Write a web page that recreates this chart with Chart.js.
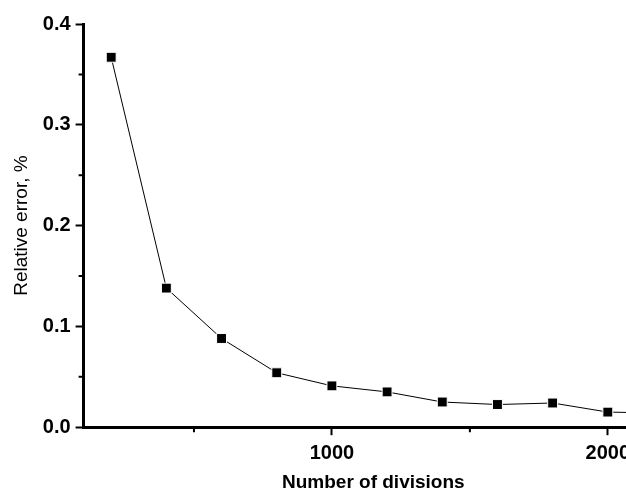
<!DOCTYPE html>
<html>
<head>
<meta charset="utf-8">
<script src="https://cdn.jsdelivr.net/npm/chart.js@4/dist/chart.umd.min.js"></script>
<style>
  html, body { margin: 0; padding: 0; background: #fff; overflow: hidden; }
  canvas { display: block; }
</style>
</head>
<body>
<canvas id="errChart" width="671" height="495"></canvas>
<script>
// Relative error vs. mesh divisions
const divisions = [200, 400, 600, 800, 1000, 1200, 1400, 1600, 1800, 2000, 2200];
const relError = [0.367, 0.138, 0.088, 0.054, 0.041, 0.035, 0.025, 0.0225, 0.024, 0.015, 0.014];
const xTicks = [500, 1000, 1500, 2000];
const xLabelled = [1000, 2000];
const yTicks = [0, 0.05, 0.1, 0.15, 0.2, 0.25, 0.3, 0.35, 0.4];

const isMajorY = (v) => Math.abs(v * 10 - Math.round(v * 10)) < 1e-6;
const isMajorX = (v) => xLabelled.includes(v);

// short unlabelled ticks between the labelled ones
const minorTicks = {
    id: 'minorTicks',
    afterDraw(chart) {
        const { ctx, scales: { x, y } } = chart;
        ctx.save();
        ctx.strokeStyle = '#000';
        ctx.lineWidth = 2;
        ctx.beginPath();
        xTicks.filter(v => !isMajorX(v)).forEach(v => {
            const px = x.getPixelForValue(v);
            ctx.moveTo(px, x.top);
            ctx.lineTo(px, x.top + 5);
        });
        yTicks.filter(v => !isMajorY(v)).forEach(v => {
            const py = y.getPixelForValue(v);
            ctx.moveTo(y.right, py);
            ctx.lineTo(y.right - 5, py);
        });
        ctx.stroke();
        ctx.restore();
    }
};

const tickFont = { family: 'Liberation Sans', size: 20, weight: 'bold' };

const ctx = document.getElementById('errChart').getContext('2d');
new Chart(ctx, {
    type: 'line',
    data: {
        datasets: [{
            data: divisions.map((d, i) => ({ x: d, y: relError[i] })),
            borderColor: '#000',
            borderWidth: 1,
            tension: 0,
            pointStyle: 'rect',
            pointRadius: 7,
            pointBackgroundColor: '#000',
            pointBorderColor: '#fff',
            pointBorderWidth: 1
        }]
    },
    options: {
        responsive: false,
        animation: false,
        layout: { padding: { left: 6, top: 24, right: 0, bottom: 0 } },
        plugins: {
            legend: { display: false },
            tooltip: { enabled: false }
        },
        scales: {
            x: {
                type: 'linear',
                min: 100,
                max: 2200,
                afterBuildTicks: (scale) => { scale.ticks = xTicks.map(v => ({ value: v })); },
                border: { display: true, color: '#000', width: 3 },
                grid: {
                    drawOnChartArea: false,
                    tickLength: 8,
                    tickWidth: 2,
                    tickColor: (c) => (c.tick && isMajorX(c.tick.value)) ? '#000' : 'rgba(0,0,0,0)'
                },
                ticks: {
                    color: '#000',
                    padding: 6,
                    autoSkip: false,
                    maxRotation: 0,
                    font: tickFont,
                    callback: (v) => isMajorX(v) ? String(v) : ''
                },
                title: {
                    display: true,
                    text: 'Number of divisions',
                    color: '#000',
                    padding: { top: 0, bottom: 1 },
                    font: { family: 'Liberation Sans', size: 19, weight: 'bold' }
                }
            },
            y: {
                min: 0,
                max: 0.4,
                afterBuildTicks: (scale) => { scale.ticks = yTicks.map(v => ({ value: v })); },
                border: { display: true, color: '#000', width: 3 },
                grid: {
                    drawOnChartArea: false,
                    tickLength: 8,
                    tickWidth: 2,
                    tickColor: (c) => (c.tick && isMajorY(c.tick.value)) ? '#000' : 'rgba(0,0,0,0)'
                },
                ticks: {
                    color: '#000',
                    padding: 5,
                    autoSkip: false,
                    font: tickFont,
                    callback: (v) => isMajorY(v) ? v.toFixed(1) : ''
                },
                title: {
                    display: true,
                    text: 'Relative error, %',
                    color: '#000',
                    padding: { top: 4, bottom: 5 },
                    font: { family: 'Liberation Sans', size: 19 }
                }
            }
        }
    },
    plugins: [minorTicks]
});
</script>
</body>
</html>
